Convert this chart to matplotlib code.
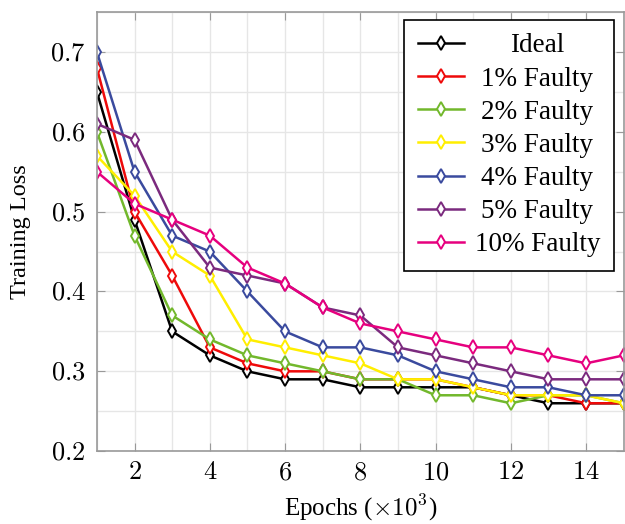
import matplotlib
matplotlib.use("Agg")
import matplotlib.pyplot as plt
from matplotlib.ticker import FuncFormatter
import numpy as np

plt.rcParams['font.family'] = 'Liberation Serif'
plt.rcParams['mathtext.fontset'] = 'cm'

epochs = np.arange(1, 16)

ideal = [0.65, 0.49, 0.35, 0.32, 0.30, 0.29, 0.29, 0.28, 0.28, 0.28, 0.28, 0.27, 0.26, 0.26, 0.26]
faulty_1 = [0.68, 0.50, 0.42, 0.33, 0.31, 0.30, 0.30, 0.29, 0.29, 0.29, 0.28, 0.27, 0.27, 0.26, 0.26]
faulty_2 = [0.60, 0.47, 0.37, 0.34, 0.32, 0.31, 0.30, 0.29, 0.29, 0.27, 0.27, 0.26, 0.27, 0.27, 0.26]
faulty_3 = [0.57, 0.52, 0.45, 0.42, 0.34, 0.33, 0.32, 0.31, 0.29, 0.29, 0.28, 0.27, 0.27, 0.27, 0.26]
faulty_4 = [0.70, 0.55, 0.47, 0.45, 0.40, 0.35, 0.33, 0.33, 0.32, 0.30, 0.29, 0.28, 0.28, 0.27, 0.27]
faulty_5 = [0.61, 0.59, 0.49, 0.43, 0.42, 0.41, 0.38, 0.37, 0.33, 0.32, 0.31, 0.30, 0.29, 0.29, 0.29]
faulty_10 = [0.55, 0.51, 0.49, 0.47, 0.43, 0.41, 0.38, 0.36, 0.35, 0.34, 0.33, 0.33, 0.32, 0.31, 0.32]

labels = ['Ideal', '1% Faulty', '2% Faulty', '3% Faulty', '4% Faulty', '5% Faulty', '10% Faulty']
series = [ideal, faulty_1, faulty_2, faulty_3, faulty_4, faulty_5, faulty_10]
colors = ['black', '#ee0a0a', '#72b82c', '#ffee00', '#3a4a9e', '#7b2a7e', '#e6007e']

fig = plt.figure(figsize=(6.25, 5.24), dpi=100)
ax = fig.add_axes([0.155, 0.139, 0.843, 0.838])

for vals, lab, c in zip(series, labels, colors):
    ax.plot(epochs, vals, color=c, lw=1.8, marker='d', markersize=7,
            mfc='white', mec=c, mew=1.4, label=lab)

ax.set_xlim(1, 15)
ax.set_ylim(0.2, 0.75)
ax.set_xticks(np.arange(2, 15, 2))
ax.set_yticks(np.arange(0.2, 0.71, 0.1))
ax.set_xticks(np.arange(1, 16, 1), minor=True)
ax.set_yticks(np.arange(0.2, 0.76, 0.05), minor=True)
ax.xaxis.set_major_formatter(FuncFormatter(lambda v, p: f'${v:.0f}$'))
ax.yaxis.set_major_formatter(FuncFormatter(lambda v, p: f'${v:.1f}$'))
ax.grid(True, which='both', color='#e6e6e6', lw=1)
ax.set_axisbelow(True)
ax.tick_params(which='both', direction='in', top=True, right=True,
               color='#999999', labelsize=19)
ax.tick_params(which='major', length=6, pad=8)
ax.tick_params(which='minor', length=0)
for s in ax.spines.values():
    s.set_color('#999999')
    s.set_linewidth(1.2)

ax.set_xlabel(r'Epochs ($\times10^3$)', fontsize=18, labelpad=6)
ax.set_ylabel('Training Loss', fontsize=17.5, labelpad=14)

leg = ax.legend(loc='upper right', fontsize=19.5, fancybox=False, framealpha=1,
                edgecolor='black', handlelength=1.7, borderpad=0.5,
                labelspacing=0.3, handletextpad=0.4,
                bbox_to_anchor=(0.981, 0.982), borderaxespad=0)
leg.get_frame().set_linewidth(1.2)

# center legend labels within the text column
fig.canvas.draw()
renderer = fig.canvas.get_renderer()
texts = leg.get_texts()
widths = [t.get_window_extent(renderer).width for t in texts]
wmax = max(widths)
for t, w in zip(texts, widths):
    t.set_x((wmax - w) / 2)

fig.savefig('out.png', dpi=100)
